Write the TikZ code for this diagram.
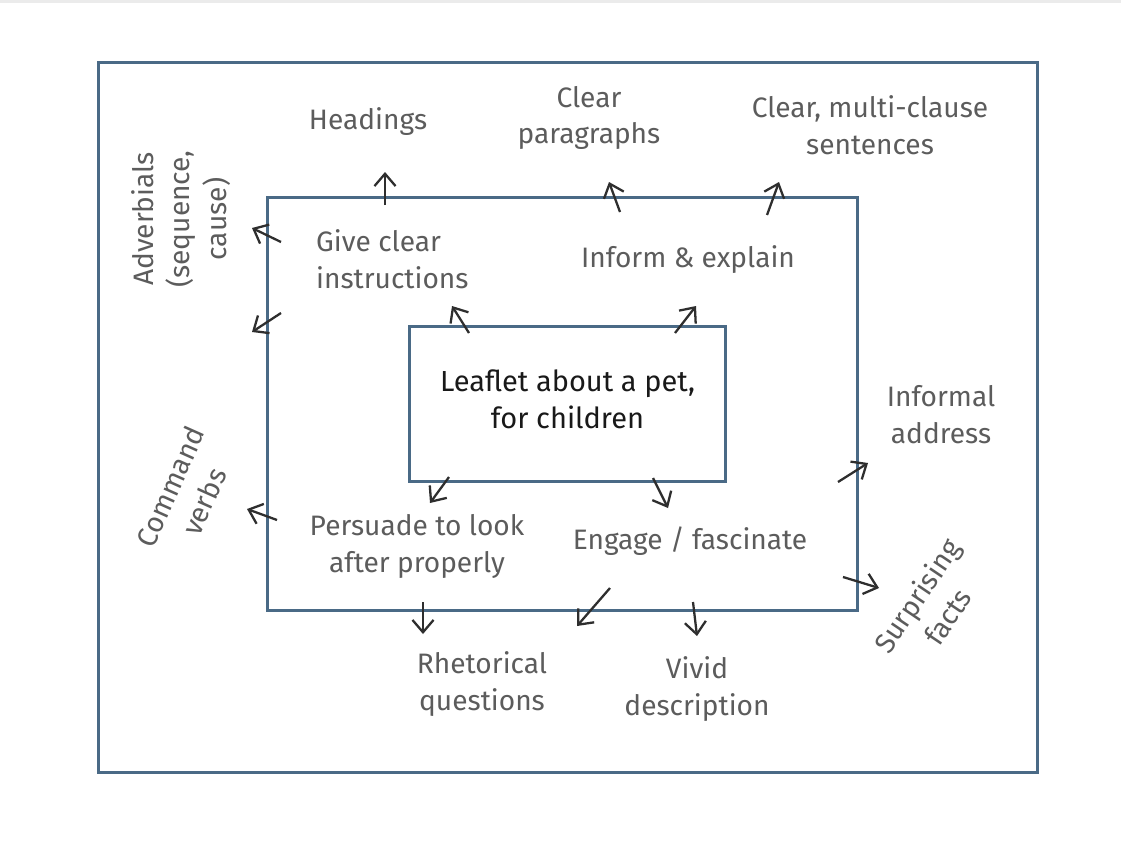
\documentclass[tikz,border=0pt]{standalone}
\usepackage{fontspec}
\setmainfont{Fira Sans}
\usepackage{tikz}
\usetikzlibrary{arrows.meta}
\definecolor{framecol}{HTML}{4A6A86}
\definecolor{labelcol}{HTML}{5C5C5C}
\definecolor{arrowcol}{HTML}{2E2E2E}
\begin{document}
\begin{tikzpicture}[x=0.02cm,y=-0.02cm]
	\tikzstyle{frame}=[draw=framecol, line width=1.7pt, inner sep=0pt]
	\tikzstyle{lbl}=[text=labelcol, font=\fontsize{16}{21}\selectfont, align=center, inner sep=1pt]
	\tikzstyle{arr}=[draw=arrowcol, line width=1.3pt, -{Straight Barb[length=7pt,width=12pt]}]
	\useasboundingbox (0,0) rectangle (1121,845);
	\fill[white] (0,0) rectangle (1121,845);
	\draw[black!8, line width=2pt] (0,1) -- (1121,1);
	% boxes
	\node[frame, minimum width=18.8cm, minimum height=14.22cm] (outer) at (568,417.5) {};
	\node[frame, minimum width=11.82cm, minimum height=8.28cm] (middle) at (562.5,404) {};
	\node[frame, minimum width=6.34cm, minimum height=3.12cm] (leafbox) at (567.5,404) {};
	\node[font=\fontsize{16.5}{21}\selectfont, text=black!90, align=center] (leaflet) at (567.5,399) {Leaflet about a pet,\\for children};
	% middle ring
	\node[lbl, anchor=west, align=left] (give) at (314,259) {Give clear\\instructions};
	\node[lbl] (inform) at (688,260) {Inform \& explain};
	\node[lbl] (persuade) at (417,546) {Persuade to look\\after properly};
	\node[lbl] (engage) at (690,541) {Engage / fascinate};
	% outer ring
	\node[lbl] (headings) at (368,122) {Headings};
	\node[lbl] (paras) at (589,118) {Clear\\paragraphs};
	\node[lbl] (sentences) at (870,125) {Clear, multi-clause\\sentences};
	\node[lbl, rotate=90] (adverbials) at (181,219) {Adverbials\\(sequence,\\cause)};
	\node[lbl, rotate=66] (command) at (187,494) {Command\\verbs};
	\node[lbl] (informal) at (941,415) {Informal\\address};
	\node[lbl, rotate=56] (surprising) at (932,606) {Surprising\\facts};
	\node[lbl] (rhetorical) at (482,684) {Rhetorical\\questions};
	\node[lbl] (vivid) at (697,689) {Vivid\\description};
	% arrow ends
	\coordinate (hd0) at (385,205);  \coordinate (hd1) at (385,172);
	\coordinate (cp0) at (620,212);  \coordinate (cp1) at (609,182);
	\coordinate (cs0) at (767,215);  \coordinate (cs1) at (779,182);
	\coordinate (ad0) at (281,242);  \coordinate (ad1) at (252,228);
	\coordinate (ae0) at (281,313);  \coordinate (ae1) at (252,332);
	\coordinate (gv0) at (469,333);  \coordinate (gv1) at (452,306);
	\coordinate (in0) at (675,333);  \coordinate (in1) at (696,306);
	\coordinate (cv0) at (277,520);  \coordinate (cv1) at (247,509);
	\coordinate (ps0) at (449,477);  \coordinate (ps1) at (430,503);
	\coordinate (en0) at (653,478);  \coordinate (en1) at (668,508);
	\coordinate (ia0) at (838,482);  \coordinate (ia1) at (868,463);
	\coordinate (sf0) at (843,577);  \coordinate (sf1) at (879,588);
	\coordinate (rq0) at (423,602);  \coordinate (rq1) at (423,634);
	\coordinate (er0) at (610,588);  \coordinate (er1) at (577,626);
	\coordinate (vd0) at (693,602);  \coordinate (vd1) at (697,636);
	% arrows
	\draw[arr] (hd0) -- (hd1);
	\draw[arr] (cp0) -- (cp1);
	\draw[arr] (cs0) -- (cs1);
	\draw[arr] (ad0) -- (ad1);
	\draw[arr] (ae0) -- (ae1);
	\draw[arr] (gv0) -- (gv1);
	\draw[arr] (in0) -- (in1);
	\draw[arr] (cv0) -- (cv1);
	\draw[arr] (ps0) -- (ps1);
	\draw[arr] (en0) -- (en1);
	\draw[arr] (ia0) -- (ia1);
	\draw[arr] (sf0) -- (sf1);
	\draw[arr] (rq0) -- (rq1);
	\draw[arr] (er0) -- (er1);
	\draw[arr] (vd0) -- (vd1);
\end{tikzpicture}
\end{document}
